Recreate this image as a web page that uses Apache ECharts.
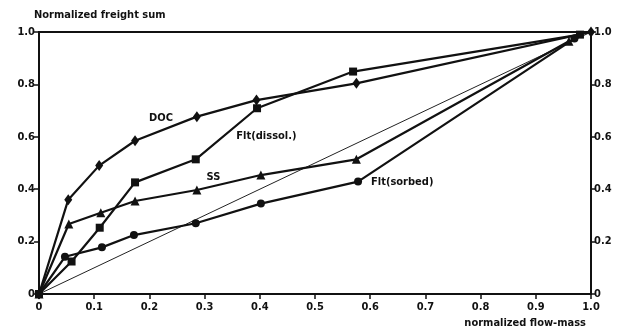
<!DOCTYPE html>
<html>
<head>
<meta charset="utf-8">
<script src="https://cdn.jsdelivr.net/npm/echarts@6/dist/echarts.min.js"></script>
<style>
  html, body { margin: 0; padding: 0; background: #fff; }
  #main { width: 622px; height: 335px; }
</style>
</head>
<body>
<div id="main"></div>
<script>
// values (normalized flow-mass -> normalized freight sum)
var docX = [0, 0.053, 0.109, 0.174, 0.286, 0.394, 0.575, 1.0];
var docY = [0, 0.36, 0.49, 0.585, 0.677, 0.74, 0.804, 1.0];

var dissolX = [0, 0.059, 0.11, 0.174, 0.284, 0.395, 0.569, 0.98];
var dissolY = [0, 0.124, 0.253, 0.426, 0.514, 0.709, 0.849, 0.99];

var ssX = [0, 0.054, 0.112, 0.174, 0.286, 0.402, 0.575, 0.96];
var ssY = [0, 0.267, 0.31, 0.355, 0.397, 0.454, 0.514, 0.965];

var sorbedX = [0, 0.047, 0.114, 0.172, 0.284, 0.402, 0.578, 0.97];
var sorbedY = [0, 0.142, 0.178, 0.225, 0.27, 0.345, 0.429, 0.975];

var diagX = [0, 1];
var diagY = [0, 1];

// where the curve names sit, in data units
var labelNames = ['DOC', 'Flt(dissol.)', 'SS', 'Flt(sorbed)'];
var labelX = [0.221, 0.412, 0.316, 0.658];
var labelY = [0.672, 0.603, 0.447, 0.427];

var FONT = '"DejaVu Sans Condensed", "Liberation Sans Narrow", sans-serif';

function pairs(xs, ys) {
    var out = [];
    for (var i = 0; i < xs.length; i++) out.push([xs[i], ys[i]]);
    return out;
}

function tickFmt(v) {
    return v === 0 ? '0' : v.toFixed(1);
}

function curve(name, xs, ys, symbol, size, idx) {
    return {
        name: name,
        type: 'line',
        data: pairs(xs, ys),
        symbol: symbol,
        symbolSize: size,
        showAllSymbol: true,
        lineStyle: { color: '#111', width: 2.2 },
        itemStyle: { color: '#111' },
        z: 3,
        markPoint: {
            symbol: 'circle',
            symbolSize: 0,
            silent: true,
            data: [{ coord: [labelX[idx], labelY[idx]] }],
            label: {
                show: true,
                position: 'inside',
                formatter: labelNames[idx],
                color: '#111',
                fontFamily: FONT,
                fontWeight: 'bold',
                fontSize: 11
            }
        }
    };
}

var myChart = echarts.init(document.getElementById('main'));

var axisLbl = { color: '#111', fontFamily: FONT, fontWeight: 'bold', fontSize: 11, formatter: tickFmt };

var option = {
    animation: false,
    backgroundColor: '#fff',
    title: [
        {
            text: 'Normalized freight sum',
            left: 29, top: 5,
            textStyle: { color: '#111', fontFamily: FONT, fontWeight: 'bold', fontSize: 11 }
        },
        {
            text: 'normalized flow-mass',
            right: 31, bottom: 1,
            textStyle: { color: '#111', fontFamily: FONT, fontWeight: 'bold', fontSize: 11 }
        }
    ],
    grid: {
        left: 39, right: 31, top: 32, bottom: 41,
        show: true, borderColor: '#111', borderWidth: 2
    },
    xAxis: {
        type: 'value', min: 0, max: 1, interval: 0.1,
        axisLine: { lineStyle: { color: '#111', width: 2 } },
        axisTick: { inside: false, length: 5, lineStyle: { color: '#111', width: 1.5 } },
        axisLabel: Object.assign({}, axisLbl, { margin: 8 }),
        splitLine: { show: false }
    },
    yAxis: [
        {
            type: 'value', min: 0, max: 1, interval: 0.2, position: 'left',
            axisLine: { show: true, lineStyle: { color: '#111', width: 2 } },
            axisTick: { show: true, length: 5, lineStyle: { color: '#111', width: 1.5 } },
            axisLabel: Object.assign({}, axisLbl, { margin: 4 }),
            splitLine: { show: false }
        },
        {
            type: 'value', min: 0, max: 1, interval: 0.2, position: 'right',
            axisLine: { show: true, lineStyle: { color: '#111', width: 2 } },
            axisTick: { show: true, length: 5, lineStyle: { color: '#111', width: 1.5 } },
            axisLabel: Object.assign({}, axisLbl, { margin: 3 }),
            splitLine: { show: false }
        }
    ],
    series: [
        {
            name: 'diagonal',
            type: 'line',
            data: pairs(diagX, diagY),
            symbol: 'none',
            lineStyle: { color: '#222', width: 1 },
            z: 2
        },
        curve('DOC', docX, docY, 'diamond', [8, 11], 0),
        curve('Flt(dissol.)', dissolX, dissolY, 'rect', 8, 1),
        curve('SS', ssX, ssY, 'triangle', 9, 2),
        curve('Flt(sorbed)', sorbedX, sorbedY, 'circle', 8, 3)
    ]
};

myChart.setOption(option);
</script>
</body>
</html>
